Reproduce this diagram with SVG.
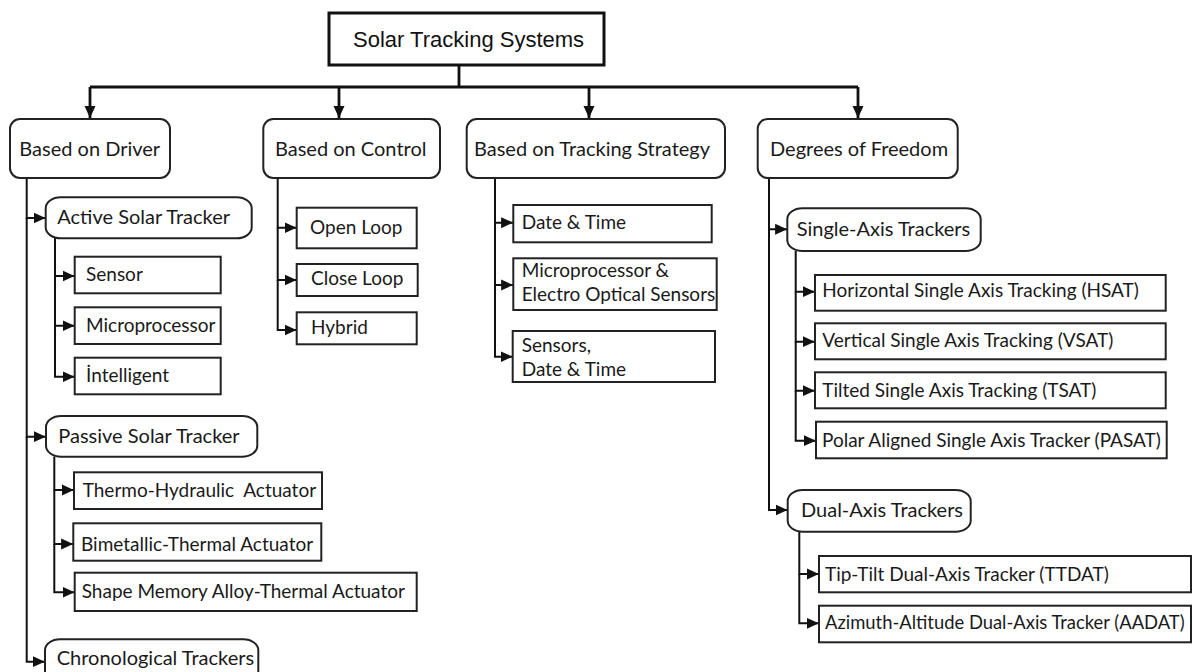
<svg xmlns="http://www.w3.org/2000/svg" width="1193" height="672" viewBox="0 0 1193 672">
<defs>
<marker id="ah" markerUnits="userSpaceOnUse" markerWidth="13" markerHeight="12" refX="12" refY="6" orient="auto">
<path d="M0,0.5 L12,6 L0,11.5 z" fill="#111"/>
</marker>
<style>
.t{font-family:"Liberation Sans",Arial,sans-serif;font-size:22px;fill:#111}
.l{font-family:Lato,"Open Sans",sans-serif;font-size:19px;fill:#1a1a1a}
.h{font-family:Lato,"Open Sans",sans-serif;font-size:20px;fill:#1a1a1a}
.box{fill:#fff;stroke:#222;stroke-width:2}
.hdr{fill:#fff;stroke:#222;stroke-width:2}
.tape{fill:#fff;stroke:#222;stroke-width:2}
.c{fill:none;stroke:#111;stroke-width:2}
.ct{fill:none;stroke:#111;stroke-width:2.8}
</style>
</defs>
<rect width="1193" height="672" fill="#fff"/>
<g id="connectors">
<path class="ct" d="M459,65 V87 M90,87 H858"/>
<path class="ct" d="M90,87 V118" marker-end="url(#ah)"/>
<path class="ct" d="M339,87 V118" marker-end="url(#ah)"/>
<path class="ct" d="M589,87 V118" marker-end="url(#ah)"/>
<path class="ct" d="M858,87 V118" marker-end="url(#ah)"/>
<path class="c" d="M26.7,178 V218 H45.5" marker-end="url(#ah)"/>
<path class="c" d="M26.7,218 V436.7 H45.8" marker-end="url(#ah)"/>
<path class="c" d="M26.7,436.7 V661.7 H44.8" marker-end="url(#ah)"/>
<path class="c" d="M55,238 V276 H74.5" marker-end="url(#ah)"/>
<path class="c" d="M55,276 V325.7 H74.5" marker-end="url(#ah)"/>
<path class="c" d="M55,325.7 V376.7 H74.5" marker-end="url(#ah)"/>
<path class="c" d="M54.3,456.5 V490 H73.8" marker-end="url(#ah)"/>
<path class="c" d="M54.3,490 V544 H73.1" marker-end="url(#ah)"/>
<path class="c" d="M54.3,544 V592.3 H74.5" marker-end="url(#ah)"/>
<path class="c" d="M277.7,178 V227.7 H296.5" marker-end="url(#ah)"/>
<path class="c" d="M277.7,227.7 V280 H296.5" marker-end="url(#ah)"/>
<path class="c" d="M277.7,280 V330 H296.5" marker-end="url(#ah)"/>
<path class="c" d="M495,178 V222.7 H513.1" marker-end="url(#ah)"/>
<path class="c" d="M495,222.7 V285 H513.1" marker-end="url(#ah)"/>
<path class="c" d="M495,285 V356.7 H512.5" marker-end="url(#ah)"/>
<path class="c" d="M769,178 V229.3 H787.1" marker-end="url(#ah)"/>
<path class="c" d="M769,229.3 V510 H787.5" marker-end="url(#ah)"/>
<path class="c" d="M795.7,251 V291.7 H814.8" marker-end="url(#ah)"/>
<path class="c" d="M795.7,291.7 V341.7 H814.8" marker-end="url(#ah)"/>
<path class="c" d="M795.7,341.7 V390.7 H814.8" marker-end="url(#ah)"/>
<path class="c" d="M795.7,390.7 V440.7 H815.8" marker-end="url(#ah)"/>
<path class="c" d="M799.3,531.5 V574 H818.8" marker-end="url(#ah)"/>
<path class="c" d="M799.3,574 V623.3 H818.8" marker-end="url(#ah)"/>
</g>
<g id="n-root"><rect x="329" y="13" width="275" height="52" fill="#fff" stroke="#111" stroke-width="3"/><text class="t" x="353" y="46.5">Solar Tracking Systems</text></g>
<g id="n-driver"><rect class="hdr" x="10" y="119" width="160" height="59" rx="10"/><text class="h" x="19.3" y="155.5">Based on Driver</text></g>
<g id="n-control"><rect class="hdr" x="263.3" y="119" width="176.7" height="59" rx="10"/><text class="h" x="275" y="155.5">Based on Control</text></g>
<g id="n-strategy"><rect class="hdr" x="466.7" y="119" width="258.3" height="59" rx="10"/><text class="h" x="474" y="155.5">Based on Tracking Strategy</text></g>
<g id="n-dof"><rect class="hdr" x="757.7" y="119" width="200" height="59" rx="10"/><text class="h" x="770" y="155.5">Degrees of Freedom</text></g>
<g id="n-active"><rect class="tape" x="45.7" y="197.3" width="206" height="41" rx="15" ry="11"/><text class="h" x="57.3" y="223.5">Active Solar Tracker</text></g>
<g id="n-sensor"><rect class="box" x="74.7" y="256.7" width="146" height="36.6"/><text class="l" x="86" y="280.5">Sensor</text></g>
<g id="n-micro"><rect class="box" x="74.7" y="307.3" width="146" height="36.7"/><text class="l" x="86" y="331.5">Microprocessor</text></g>
<g id="n-intel"><rect class="box" x="74.7" y="357.7" width="146" height="36.6"/><text class="l" x="86" y="381.5">İntelligent</text></g>
<g id="n-open"><rect class="box" x="296.7" y="207.7" width="120" height="40.6"/><text class="l" x="310" y="234">Open Loop</text></g>
<g id="n-close"><rect class="box" x="296.7" y="264" width="121" height="32"/><text class="l" x="311" y="285">Close Loop</text></g>
<g id="n-hybrid"><rect class="box" x="296.7" y="312.3" width="120" height="32"/><text class="l" x="311" y="333.5">Hybrid</text></g>
<g id="n-passive"><rect class="tape" x="46" y="416" width="211.3" height="40.7" rx="15" ry="11"/><text class="h" x="58.3" y="442.8">Passive Solar Tracker</text></g>
<g id="n-thermo"><rect class="box" x="74" y="472.3" width="248" height="36.7"/><text class="l" x="82.7" y="497" xml:space="preserve">Thermo-Hydraulic  Actuator</text></g>
<g id="n-bimetal"><rect class="box" x="73.3" y="523.3" width="248" height="37.4"/><text class="l" x="81" y="550.5">Bimetallic-Thermal Actuator</text></g>
<g id="n-sma"><rect class="box" x="74.7" y="572.7" width="342" height="38.3"/><text class="l" x="81.7" y="597.8">Shape Memory Alloy-Thermal Actuator</text></g>
<g id="n-chrono"><rect class="tape" x="45" y="639.3" width="213.3" height="44" rx="15" ry="11"/><text class="h" x="56.7" y="664.5">Chronological Trackers</text></g>
<g id="n-datetime"><rect class="box" x="513.3" y="205" width="198.4" height="37.3"/><text class="l" x="521.7" y="228.8">Date &amp; Time</text></g>
<g id="n-mpeo"><rect class="box" x="513.3" y="258.3" width="203.4" height="51.7"/><text class="l" x="521.7" y="277">Microprocessor &amp;</text><text class="l" x="521.7" y="300.5">Electro Optical Sensors</text></g>
<g id="n-sdt"><rect class="box" x="512.7" y="331" width="202.3" height="51"/><text class="l" x="521.7" y="352">Sensors,</text><text class="l" x="521.7" y="375.5">Date &amp; Time</text></g>
<g id="n-single"><rect class="tape" x="787.3" y="208.3" width="193.4" height="42.7" rx="15" ry="11"/><text class="h" x="796.7" y="235.5">Single-Axis Trackers</text></g>
<g id="n-hsat"><rect class="box" x="815" y="275" width="350.7" height="35.7"/><text class="l" x="822.3" y="297">Horizontal Single Axis Tracking (HSAT)</text></g>
<g id="n-vsat"><rect class="box" x="815" y="323.3" width="350.7" height="36"/><text class="l" x="822.3" y="347">Vertical Single Axis Tracking (VSAT)</text></g>
<g id="n-tsat"><rect class="box" x="815" y="372.3" width="350.7" height="36"/><text class="l" x="822.3" y="396.5">Tilted Single Axis Tracking (TSAT)</text></g>
<g id="n-pasat"><rect class="box" x="816" y="421.7" width="350.7" height="36.6"/><text class="l" x="822" y="447">Polar Aligned Single Axis Tracker (PASAT)</text></g>
<g id="n-dual"><rect class="tape" x="787.7" y="490" width="183" height="41.7" rx="15" ry="11"/><text class="h" x="801" y="516.5">Dual-Axis Trackers</text></g>
<g id="n-ttdat"><rect class="box" x="819" y="556" width="372" height="36.3"/><text class="l" x="825" y="580.5">Tip-Tilt Dual-Axis Tracker (TTDAT)</text></g>
<g id="n-aadat"><rect class="box" x="819" y="605.7" width="372" height="36.6"/><text class="l" x="825" y="628.8" style="font-size:18.4px">Azimuth-Altitude Dual-Axis Tracker (AADAT)</text></g>
</svg>
